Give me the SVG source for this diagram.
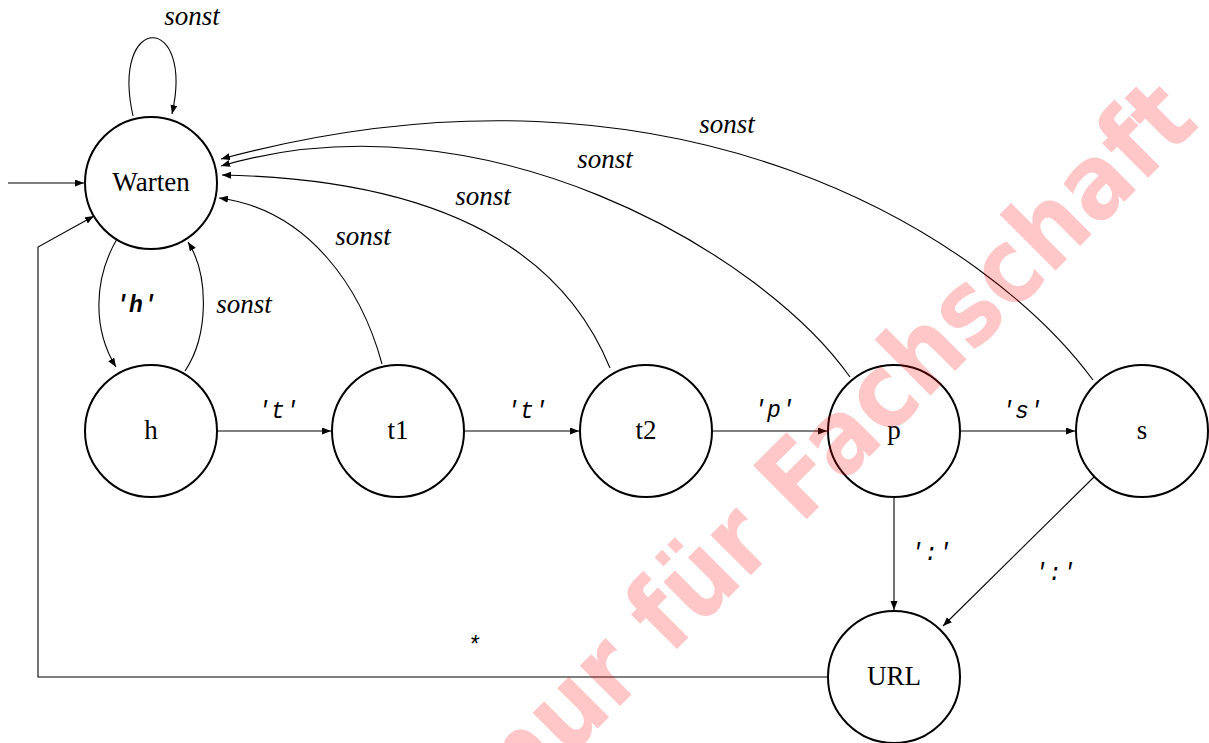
<svg xmlns="http://www.w3.org/2000/svg" width="1209" height="743" viewBox="0 0 1209 743">
<defs>
<marker id="arr" markerWidth="10" markerHeight="8" refX="9" refY="3.5" orient="auto" markerUnits="userSpaceOnUse">
<path d="M0,0 L9,3.5 L0,7 z" fill="#000"/>
</marker>
<style>
.node circle{fill:none;stroke:#000;stroke-width:2}
.node text{font-family:"Liberation Serif",serif;font-size:27px;text-anchor:middle;fill:#000}
#edges path{fill:none;stroke:#000;stroke-width:1.1;marker-end:url(#arr)}
.lbl{font-family:"Liberation Serif",serif;font-style:italic;font-size:27px;text-anchor:middle;fill:#000}
.tt{font-family:"Liberation Mono",monospace;font-style:italic;font-size:23px;text-anchor:middle;fill:#000}
.wm{font-family:"DejaVu Sans",sans-serif;font-weight:bold;font-size:93px;fill:#ff0000;fill-opacity:0.22}
</style>
</defs>
<rect width="1209" height="743" fill="#fff"/>
<g id="edges">
<path d="M8,183 L84,183"/>
<path d="M133,116 C110,12 195,12 172,114"/>
<path d="M117,239 C93,280 93,330 116,367"/>
<path d="M185,371 C209,335 209,275 188,242"/>
<path d="M217,431 L331,431"/>
<path d="M464,431 L579,431"/>
<path d="M712,431 L827,431"/>
<path d="M960,431 L1075,431"/>
<path d="M382,364 C362,290 310,210 219,198"/>
<path d="M610,368 C570,270 470,180 222,175"/>
<path d="M850,377 C760,250 480,90 221,166"/>
<path d="M1093,380 C990,240 680,35 221,159"/>
<path d="M894,497 L894,610"/>
<path d="M1094,477 L943,626"/>
<path d="M828,677 L38,677 L38,247 L94,216"/>
</g>
<g id="labels">
<text class="lbl" x="192" y="25">sonst</text>
<text class="tt" x="136" y="312" font-weight="bold">'h'</text>
<text class="lbl" x="244" y="313">sonst</text>
<text class="lbl" x="363" y="245">sonst</text>
<text class="lbl" x="483" y="205">sonst</text>
<text class="lbl" x="605" y="168">sonst</text>
<text class="lbl" x="727" y="133">sonst</text>
<text class="tt" x="278" y="418">'t'</text>
<text class="tt" x="527" y="418">'t'</text>
<text class="tt" x="774" y="417">'p'</text>
<text class="tt" x="1022" y="418">'s'</text>
<text class="tt" x="931" y="560">':'</text>
<text class="tt" x="1055" y="580">':'</text>
<text class="tt" x="474" y="653" font-style="normal">*</text>
</g>
<g id="n-warten" class="node"><circle cx="151" cy="183" r="66"/><text x="151" y="191">Warten</text></g>
<g id="n-h" class="node"><circle cx="151" cy="431" r="66"/><text x="151" y="439">h</text></g>
<g id="n-t1" class="node"><circle cx="398" cy="431" r="66"/><text x="398" y="439">t1</text></g>
<g id="n-t2" class="node"><circle cx="646" cy="431" r="66"/><text x="646" y="439">t2</text></g>
<g id="n-p" class="node"><circle cx="894" cy="431" r="66"/><text x="894" y="439">p</text></g>
<g id="n-s" class="node"><circle cx="1142" cy="431" r="66"/><text x="1142" y="439">s</text></g>
<g id="n-url" class="node"><circle cx="894" cy="677" r="66"/><text x="894" y="685">URL</text></g>
<text class="wm" transform="translate(521,805) rotate(-45) scale(1,1.12)">nur für Fachschaft</text>
</svg>
